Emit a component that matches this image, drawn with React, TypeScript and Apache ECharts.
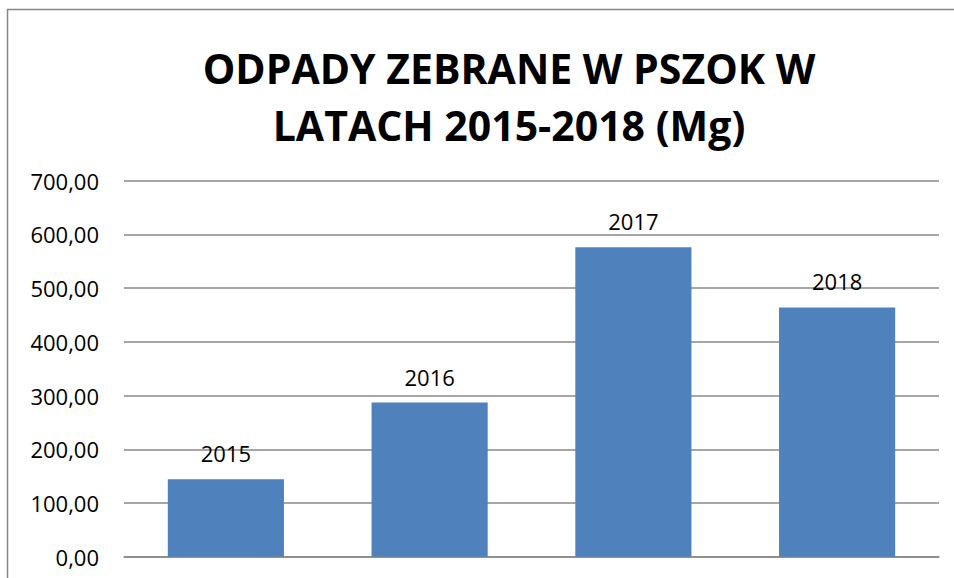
import React, { useEffect, useRef } from "react";
import * as echarts from "echarts";

const categories = ["2015", "2016", "2017", "2018"];
const values = [144, 287, 576, 464];
const yTicks = [0, 100, 200, 300, 400, 500, 600, 700];
const titleLines = ["ODPADY ZEBRANE W PSZOK W", "LATACH 2015-2018 (Mg)"];

const FONT = "'Open Sans', 'DejaVu Sans', sans-serif";

export default function App() {
  const ref = useRef<HTMLDivElement>(null);
  useEffect(() => {
    if (!ref.current) return;
    const chart = echarts.init(ref.current, undefined, { renderer: "svg" });
    chart.setOption({
      animation: false,
      backgroundColor: "#ffffff",
      title: {
        text: titleLines.join("\n"),
        left: 504,
        top: 34,
        textAlign: "center",
        textStyle: {
          fontFamily: FONT,
          fontSize: 41,
          fontWeight: "bold",
          lineHeight: 57,
          color: "#000000",
        },
      },
      graphic: [
        {
          type: "line",
          shape: { x1: 7, y1: 9.5, x2: 954, y2: 9.5 },
          style: { stroke: "#868686", lineWidth: 1.5 },
          silent: true,
        },
        {
          type: "line",
          shape: { x1: 7.5, y1: 9, x2: 7.5, y2: 578 },
          style: { stroke: "#868686", lineWidth: 1.5 },
          silent: true,
        },
      ],
      grid: { left: 124, right: 15, top: 180.7, bottom: 21.3 },
      xAxis: {
        type: "category",
        data: categories,
        axisLine: { show: true, lineStyle: { color: "#888888", width: 1.5 } },
        axisTick: { show: false },
        axisLabel: { show: false },
      },
      yAxis: {
        type: "value",
        min: yTicks[0],
        max: yTicks[yTicks.length - 1],
        interval: 100,
        axisLine: { show: false },
        axisTick: { show: false },
        splitLine: { lineStyle: { color: "#888888", width: 1.5 } },
        axisLabel: {
          margin: 25,
          fontFamily: FONT,
          fontSize: 22,
          color: "#000000",
          formatter: (v: number) => v.toFixed(2).replace(".", ","),
        },
      },
      series: [
        {
          type: "bar",
          data: values,
          barWidth: "57%",
          itemStyle: { color: "#4F81BD" },
          label: {
            show: true,
            position: "top",
            distance: 15,
            formatter: "{b}",
            fontFamily: FONT,
            fontSize: 22,
            color: "#000000",
          },
        },
      ],
    });
    return () => chart.dispose();
  }, []);
  return (
    <div
      ref={ref}
      style={{ position: "fixed", left: 0, top: 0, width: 954, height: 578 }}
    />
  );
}
